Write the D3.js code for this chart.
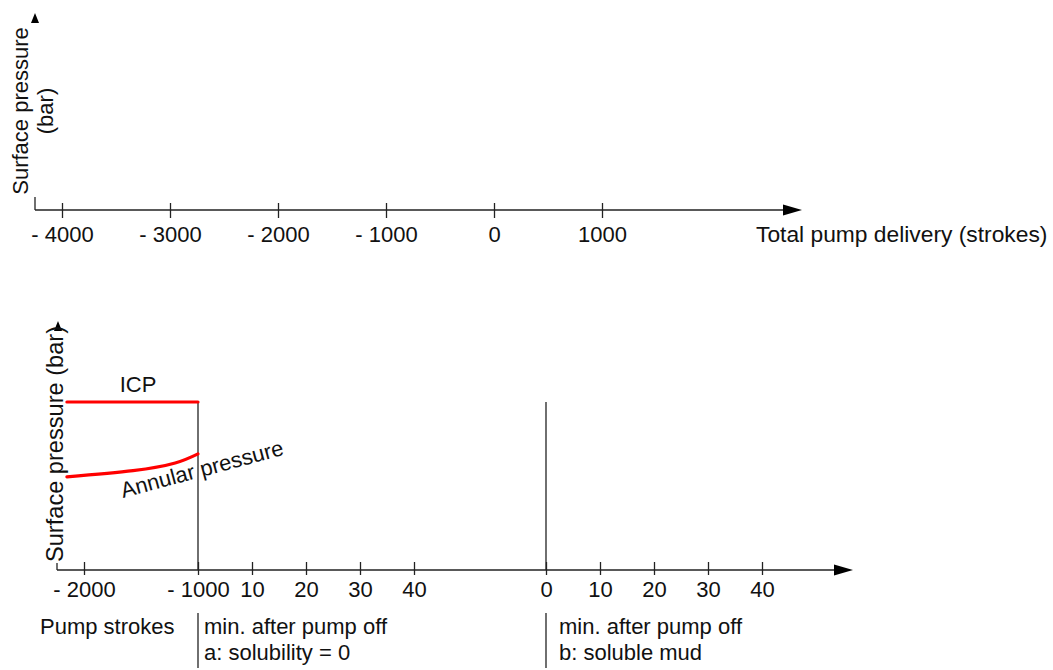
<!DOCTYPE html>
<html>
<head>
<meta charset="utf-8">
<title>Surface pressure vs pump delivery</title>
<script src="https://cdn.jsdelivr.net/npm/d3@7"></script>
<style>
  body { margin: 0; background: #fff; }
  text { font-family: "Liberation Sans", Arial, sans-serif; font-size: 22px; fill: #111; }
  .ax path, .ax line { stroke: #222; stroke-width: 1.3; }
</style>
</head>
<body>
<svg id="chart" width="1053" height="670"></svg>
<script>
// tick values
var topTicks = [-4000, -3000, -2000, -1000, 0, 1000];
var strokeTicks = [-2000, -1000];
var minTicksA = [10, 20, 30, 40];
var minTicksB = [0, 10, 20, 30, 40];

// red curves (pump strokes, relative pressure)
var icpStrokes = [-2150, -1000];
var icpPressure = [70, 70];
var annStrokes = [-2150, -1570, -1200, -1000];
var annPressure = [38.8, 41.4, 44.6, 48.4];

var svg = d3.select("#chart");

function negLabel(d) {
  return d < 0 ? "- " + Math.abs(d) : String(d);
}

function arrowRight(g, x, y) {
  g.append("path")
    .attr("d", "M" + (x - 19) + "," + (y - 5.5) + "L" + x + "," + y + "L" + (x - 19) + "," + (y + 5.5) + "Z")
    .attr("fill", "#000");
}
function arrowUp(g, x, y) {
  g.append("path")
    .attr("d", "M" + (x - 4) + "," + (y + 10) + "L" + x + "," + y + "L" + (x + 4) + "," + (y + 10) + "Z")
    .attr("fill", "#000");
}

// ---------- top chart ----------
var top0 = 210, left0 = 35;
var xTop = d3.scaleLinear().domain([-4000, 1000]).range([62, 602]);

var gt = svg.append("g");
gt.append("line")
  .attr("x1", left0).attr("x2", 790).attr("y1", top0).attr("y2", top0)
  .attr("stroke", "#222").attr("stroke-width", 1.3);
gt.append("line")
  .attr("x1", left0).attr("x2", left0).attr("y1", 197).attr("y2", top0)
  .attr("stroke", "#222").attr("stroke-width", 1.3);
arrowRight(gt, 802, top0);
arrowUp(gt, left0, 13);

var topAxis = d3.axisBottom(xTop).tickValues(topTicks).tickSize(0).tickFormat(negLabel);
var ta = gt.append("g").attr("class", "ax").attr("transform", "translate(0," + top0 + ")").call(topAxis);
ta.select(".domain").remove();
ta.selectAll(".tick line").attr("y1", -7).attr("y2", 8);
ta.selectAll(".tick text").attr("y", 32).attr("dy", 0).attr("font-size", null).attr("font-family", null).attr("fill", null);

gt.append("text").attr("x", 756).attr("y", 242).style("font-size", "22.8px").text("Total pump delivery (strokes)");

var ylabTop = gt.append("text").attr("text-anchor", "middle")
  .attr("transform", "translate(28,111) rotate(-90)");
ylabTop.append("tspan").attr("x", 0).attr("y", 0).text("Surface pressure");
ylabTop.append("tspan").attr("x", 0).attr("y", 25).text("(bar)");

// ---------- bottom chart ----------
var base = 570, left1 = 57;
var xStroke = d3.scaleLinear().domain([-2000, -1000]).range([84, 198]);
var xMinA = d3.scaleLinear().domain([0, 40]).range([198, 414]);
var xMinB = d3.scaleLinear().domain([0, 40]).range([546, 762]);
var yP = d3.scaleLinear().domain([0, 100]).range([base, 330]);

var gb = svg.append("g");
gb.append("line")
  .attr("x1", left1).attr("x2", 840).attr("y1", base).attr("y2", base)
  .attr("stroke", "#222").attr("stroke-width", 1.3);
gb.append("line")
  .attr("x1", left1).attr("x2", left1).attr("y1", 563).attr("y2", base)
  .attr("stroke", "#222").attr("stroke-width", 1.3);
arrowRight(gb, 853, base);
arrowUp(gb, 58, 321);

function bottomAxis(scale, ticks) {
  var a = gb.append("g").attr("class", "ax").attr("transform", "translate(0," + base + ")")
    .call(d3.axisBottom(scale).tickValues(ticks).tickSize(0).tickFormat(negLabel));
  a.select(".domain").remove();
  a.selectAll(".tick line").attr("y1", -8).attr("y2", 5);
  a.selectAll(".tick text").attr("y", 27).attr("dy", 0).attr("font-size", null).attr("font-family", null).attr("fill", null);
  return a;
}
bottomAxis(xStroke, strokeTicks);
bottomAxis(xMinA, minTicksA);
bottomAxis(xMinB, minTicksB);

// vertical separators at pump off
gb.append("line")
  .attr("x1", xStroke(-1000)).attr("x2", xStroke(-1000))
  .attr("y1", yP(icpPressure[1])).attr("y2", base)
  .attr("stroke", "#222").attr("stroke-width", 1.3);
gb.append("line")
  .attr("x1", xMinB(0)).attr("x2", xMinB(0))
  .attr("y1", yP(icpPressure[1])).attr("y2", base)
  .attr("stroke", "#222").attr("stroke-width", 1.3);

// red curves
var icpData = icpStrokes.map(function(s, i) { return [s, icpPressure[i]]; });
var annData = annStrokes.map(function(s, i) { return [s, annPressure[i]]; });
var line = d3.line()
  .x(function(d) { return xStroke(d[0]); })
  .y(function(d) { return yP(d[1]); })
  .curve(d3.curveNatural);

gb.append("path").datum(icpData).attr("d", line)
  .attr("fill", "none").attr("stroke", "#f00").attr("stroke-width", 3.2).attr("stroke-linecap", "round");
gb.append("path").datum(annData).attr("d", line)
  .attr("fill", "none").attr("stroke", "#f00").attr("stroke-width", 3.2).attr("stroke-linecap", "round");

gb.append("text").attr("x", 138).attr("y", 392).attr("text-anchor", "middle").text("ICP");
gb.append("text").attr("transform", "translate(123,498) rotate(-15)").text("Annular pressure");

gb.append("text").attr("text-anchor", "middle")
  .attr("transform", "translate(63,444) rotate(-90)")
  .style("font-size", "23.6px")
  .text("Surface pressure (bar)");

// captions under the bottom axis
gb.append("text").attr("x", 40).attr("y", 634).text("Pump strokes");
[xStroke(-1000), xMinB(0)].forEach(function(x) {
  gb.append("line").attr("x1", x).attr("x2", x).attr("y1", 613).attr("y2", 668)
    .attr("stroke", "#222").attr("stroke-width", 1.3);
});
gb.append("text").attr("x", 204).attr("y", 634).text("min. after pump off");
gb.append("text").attr("x", 204).attr("y", 660).text("a: solubility = 0");
gb.append("text").attr("x", 559).attr("y", 634).text("min. after pump off");
gb.append("text").attr("x", 559).attr("y", 660).text("b: soluble mud");
</script>
</body>
</html>
